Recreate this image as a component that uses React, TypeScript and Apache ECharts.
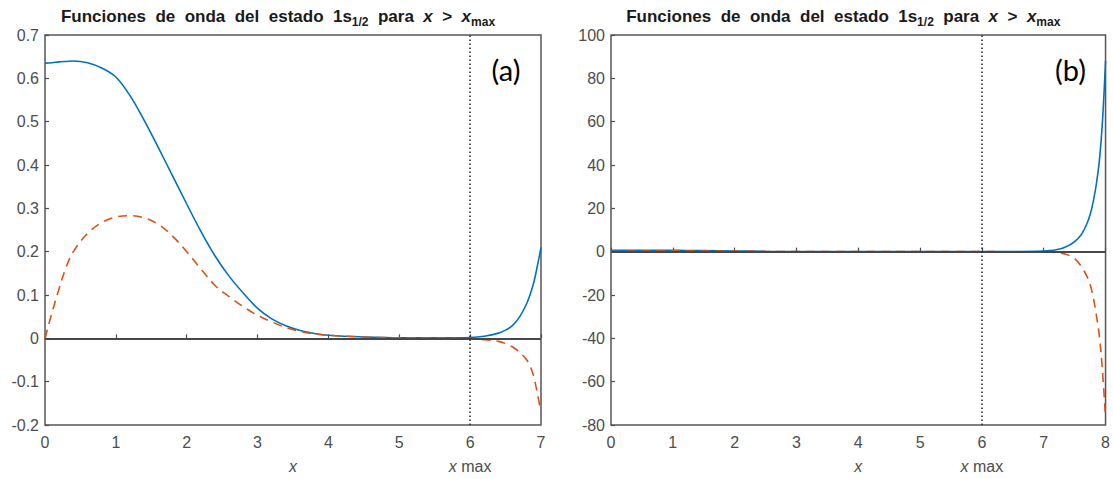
import React, { useEffect, useRef } from "react";
import * as echarts from "echarts";

// Panel (a)
const xA = [0, 0.1, 0.2, 0.3, 0.4, 0.6, 0.8, 1.0, 1.2, 1.4, 1.6, 1.8, 2.0, 2.2, 2.4, 2.6, 2.8, 3.0, 3.2, 3.4, 3.6, 3.8, 4.0, 4.5, 5.0, 5.5, 6.0, 6.2, 6.4, 6.5, 6.6, 6.7, 6.8, 6.85, 6.9, 6.95, 7.0];
const blueA = [0.635, 0.636, 0.638, 0.639, 0.64, 0.636, 0.624, 0.603, 0.56, 0.503, 0.44, 0.375, 0.31, 0.247, 0.19, 0.143, 0.104, 0.069, 0.045, 0.029, 0.018, 0.011, 0.007, 0.003, 0.001, 0.001, 0.002, 0.005, 0.012, 0.019, 0.03, 0.05, 0.081, 0.103, 0.13, 0.168, 0.21];
const dashA = [0, 0.06, 0.115, 0.165, 0.2, 0.242, 0.267, 0.28, 0.283, 0.278, 0.263, 0.236, 0.2, 0.16, 0.122, 0.096, 0.073, 0.053, 0.038, 0.025, 0.016, 0.01, 0.007, 0.003, 0.001, 0.0005, -0.001, -0.003, -0.007, -0.012, -0.02, -0.032, -0.05, -0.065, -0.09, -0.128, -0.17];

// Panel (b)
const xB = [0, 0.2, 0.4, 0.6, 0.8, 1.0, 1.2, 1.5, 2.0, 2.5, 3.0, 3.5, 4.0, 5.0, 6.0, 6.5, 7.0, 7.1, 7.2, 7.3, 7.4, 7.5, 7.6, 7.65, 7.7, 7.75, 7.8, 7.85, 7.9, 7.95, 8.0];
const blueB = [0.635, 0.638, 0.64, 0.636, 0.624, 0.603, 0.56, 0.47, 0.31, 0.165, 0.069, 0.022, 0.007, 0.001, 0.002, 0.03, 0.3, 0.5, 0.9, 1.6, 2.8, 4.6, 7.6, 10, 13, 17, 23, 31, 42, 60, 88];
const dashB = [0, 0.115, 0.2, 0.242, 0.267, 0.28, 0.283, 0.27, 0.2, 0.11, 0.053, 0.02, 0.007, 0.001, -0.001, -0.02, -0.15, -0.25, -0.4, -0.8, -1.6, -3.2, -6.5, -8.8, -11.5, -15, -21, -29, -39, -55, -77];

const panelLabels = ["(a)", "(b)"];
const S = "\u00a0\u00a0";
const titleText =
  `{b|Funciones${S}de${S}onda${S}del${S}estado${S}1s}{sub|1/2}{b|${S}para${S}}{it|x}{b|${S}>${S}}{it|x}{sub|max}`;

function pairs(xs: number[], ys: number[]) {
  return xs.map((x, i) => [x, ys[i]]);
}

export default function App() {
  const ref = useRef<HTMLDivElement>(null);
  useEffect(() => {
    const chart = echarts.init(ref.current!, null, { renderer: "svg" });
    const font = "'Liberation Sans', Arial, sans-serif";
    const axisColor = "#4d4d4d";
    const blue = "#0072BD";
    const orange = "#D95319";

    const xAxisBase = (max: number) => ({
      type: "value" as const,
      min: 0,
      max,
      interval: 1,
      name: "x",
      nameLocation: "middle" as const,
      nameGap: 33,
      nameTextStyle: { fontStyle: "italic", fontSize: 16, color: axisColor, fontFamily: font },
      axisLine: { show: false },
      axisTick: { show: true, inside: true, length: 4, lineStyle: { color: axisColor, width: 1.2 } },
      axisLabel: { fontSize: 16, color: axisColor, fontFamily: font, margin: 9 },
      splitLine: { show: false },
    });
    const yAxisBase = (min: number, max: number, interval: number) => ({
      type: "value" as const,
      min,
      max,
      interval,
      axisLine: { show: false },
      axisTick: { show: true, inside: true, length: 4, lineStyle: { color: axisColor, width: 1.2 } },
      axisLabel: { fontSize: 16, color: axisColor, fontFamily: font, margin: 6 },
      splitLine: { show: false },
    });

    const markLine = {
      silent: true,
      symbol: ["none", "none"],
      label: { show: false },
      data: [
        { yAxis: 0, lineStyle: { color: "#474747", width: 1.8, type: "solid" } },
        { xAxis: 6, lineStyle: { color: "#222", width: 1.5, type: [1.5, 2.5] } },
      ],
    };

    const lineSeries = (xi: number, xs: number[], ys: number[], dashed: boolean) => ({
      type: "line",
      xAxisIndex: xi,
      yAxisIndex: xi,
      data: pairs(xs, ys),
      showSymbol: false,
      smooth: 0.35,
      lineStyle: dashed ? { color: orange, width: 1.6, type: [9, 6] } : { color: blue, width: 1.6 },
      z: dashed ? 3 : 2,
      ...(dashed ? {} : { markLine }),
    });

    chart.setOption({
      animation: false,
      grid: [
        { left: 45, right: 572, top: 35, bottom: 54, show: true, borderColor: "#555", borderWidth: 1.5 },
        { left: 611, right: 6, top: 35, bottom: 54, show: true, borderColor: "#555", borderWidth: 1.5 },
      ],
      xAxis: [
        { ...xAxisBase(7), gridIndex: 0 },
        { ...xAxisBase(8), gridIndex: 1 },
      ],
      yAxis: [
        { ...yAxisBase(-0.2, 0.7, 0.1), gridIndex: 0 },
        { ...yAxisBase(-80, 100, 20), gridIndex: 1 },
      ],
      series: [
        lineSeries(0, xA, dashA, true),
        lineSeries(0, xA, blueA, false),
        lineSeries(1, xB, dashB, true),
        lineSeries(1, xB, blueB, false),
      ],
    });

    const rich = {
      b: { fontWeight: "bold", fontSize: 17, fontFamily: font, fill: "#1a1a1a", lineHeight: 18 },
      it: { fontWeight: "bold", fontStyle: "italic", fontSize: 17, fontFamily: font, fill: "#1a1a1a", lineHeight: 18 },
      sub: { fontWeight: "bold", fontSize: 12, fontFamily: font, fill: "#1a1a1a", lineHeight: 12, padding: [11, 0, 0, 0] },
    };
    const xmaxRich = {
      i: { fontStyle: "italic", fontSize: 16, fontFamily: font, fill: axisColor },
      n: { fontSize: 16, fontFamily: font, fill: axisColor },
    };

    const graphics: any[] = [];
    [0, 1].forEach((g) => {
      const yMin = g === 0 ? -0.2 : -80;
      const yMax = g === 0 ? 0.7 : 100;
      const xMax = g === 0 ? 7 : 8;
      const pBL = chart.convertToPixel({ gridIndex: g }, [0, yMin]) as number[];
      const pTR = chart.convertToPixel({ gridIndex: g }, [xMax, yMax]) as number[];
      const p6 = chart.convertToPixel({ gridIndex: g }, [6, yMin]) as number[];
      graphics.push({
        type: "text",
        x: (pBL[0] + pTR[0]) / 2 - 15,
        y: pTR[1] - 19,
        style: { text: titleText, rich, align: "center", verticalAlign: "middle" },
      });
      graphics.push({
        type: "text",
        x: p6[0],
        y: p6[1] + 41,
        style: { text: "{i|x}{n| max}", rich: xmaxRich, align: "center", verticalAlign: "middle" },
      });
      graphics.push({
        type: "text",
        x: pTR[0] - 35,
        y: pTR[1] + 34,
        style: { text: panelLabels[g], font: "29px Lato, 'Open Sans', sans-serif", fill: "#000", align: "center", verticalAlign: "middle" },
      });
    });
    chart.setOption({ graphic: graphics });

    return () => chart.dispose();
  }, []);
  return <div ref={ref} style={{ position: "absolute", left: 0, top: 0, width: 1113, height: 479 }} />;
}
